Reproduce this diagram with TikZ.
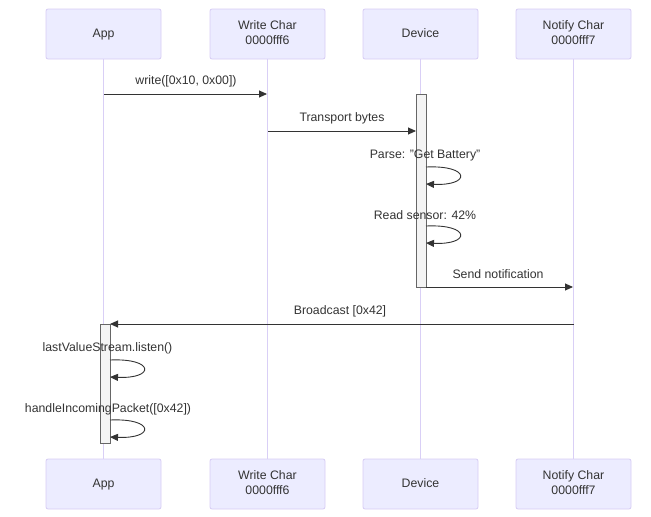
\documentclass[tikz,border=0pt]{standalone}
\usepackage{fontspec}
\setmainfont{Liberation Sans}
\usetikzlibrary{arrows.meta}
\definecolor{actfill}{HTML}{ECECFF}
\definecolor{actline}{HTML}{D6CCF4}
\definecolor{lifecol}{HTML}{D9CFF6}
\definecolor{msgcol}{HTML}{333333}
\definecolor{txtcol}{HTML}{333333}
\definecolor{actbox}{HTML}{666666}
\definecolor{actbg}{HTML}{F4F4F4}
\begin{document}
\begin{tikzpicture}[x=1pt,y=-1pt,
  actor/.style={draw=actline, fill=actfill, rounded corners=2pt, minimum width=115pt, minimum height=50pt, align=center, inner sep=0pt, font=\fontsize{12.3}{15}\selectfont, text=txtcol, line width=0.8pt},
  life/.style={draw=lifecol, line width=1pt},
  msg/.style={draw=msgcol, line width=0.9pt, -{Triangle[length=8pt,width=7pt]}},
  lbl/.style={font=\fontsize{12.3}{15}\selectfont, text=txtcol, inner sep=0pt},
  actbar/.style={draw=actbox, fill=actbg, line width=0.7pt, minimum width=10pt, inner sep=0pt}
]
\useasboundingbox (0,0) rectangle (651,517);
% actors top
\node[actor] (appT) at (103.5,34) {\strut App};
\node[actor] (wrT) at (267.5,34) {\strut Write Char\\\strut 0000fff6};
\node[actor] (devT) at (420.5,34) {\strut Device};
\node[actor] (ntT) at (573.5,34) {\strut Notify Char\\\strut 0000fff7};
% actors bottom
\node[actor] (appB) at (103.5,484) {\strut App};
\node[actor] (wrB) at (267.5,484) {\strut Write Char\\\strut 0000fff6};
\node[actor] (devB) at (420.5,484) {\strut Device};
\node[actor] (ntB) at (573.5,484) {\strut Notify Char\\\strut 0000fff7};
% lifelines
\draw[life] (appT) -- (appB);
\draw[life] (wrT) -- (wrB);
\draw[life] (devT) -- (devB);
\draw[life] (ntT) -- (ntB);
% activations
\node[actbar, minimum height=193pt] (devAct) at (421,190.5) {};
\node[actbar, minimum height=119pt] (appAct) at (105,383.5) {};
% message 1
\coordinate (m1s) at (104,94);
\coordinate (m1e) at (267,94);
\node[lbl] (l1) at (186,81) {write([0x10, 0x00])};
\draw[msg] (m1s) -- (m1e);
% message 2
\coordinate (m2s) at (268,131);
\coordinate (m2e) at (416,131);
\node[lbl] (l2) at (342,118.5) {Transport bytes};
\draw[msg] (m2s) -- (m2e);
% self 1
\coordinate (s1s) at (426,167);
\coordinate (s1e) at (426,184);
\node[lbl] (l3) at (425,155.5) {Parse: "Get Battery"};
\draw[msg] (s1s) .. controls (471,165) and (471,186) .. (s1e);
% self 2
\coordinate (s2s) at (426,226);
\coordinate (s2e) at (426,243);
\node[lbl] (l4) at (425,215.5) {Read sensor: 42\%};
\draw[msg] (s2s) .. controls (471,224) and (471,245) .. (s2e);
% message 3
\coordinate (m3s) at (426,287);
\coordinate (m3e) at (573,287);
\node[lbl] (l5) at (498,274.5) {Send notification};
\draw[msg] (m3s) -- (m3e);
% message 4
\coordinate (m4s) at (574,324);
\coordinate (m4e) at (110,324);
\node[lbl] (l6) at (340,311.5) {Broadcast [0x42]};
\draw[msg] (m4s) -- (m4e);
% self 3
\coordinate (s3s) at (110,360);
\coordinate (s3e) at (110,377);
\node[lbl] (l7) at (107.5,348.5) {lastValueStream.listen()};
\draw[msg] (s3s) .. controls (155,358) and (155,379) .. (s3e);
% self 4
\coordinate (s4s) at (110,420);
\coordinate (s4e) at (110,437);
\node[lbl] (l8) at (108,409.5) {handleIncomingPacket([0x42])};
\draw[msg] (s4s) .. controls (155,418) and (155,439) .. (s4e);
\end{tikzpicture}
\end{document}
